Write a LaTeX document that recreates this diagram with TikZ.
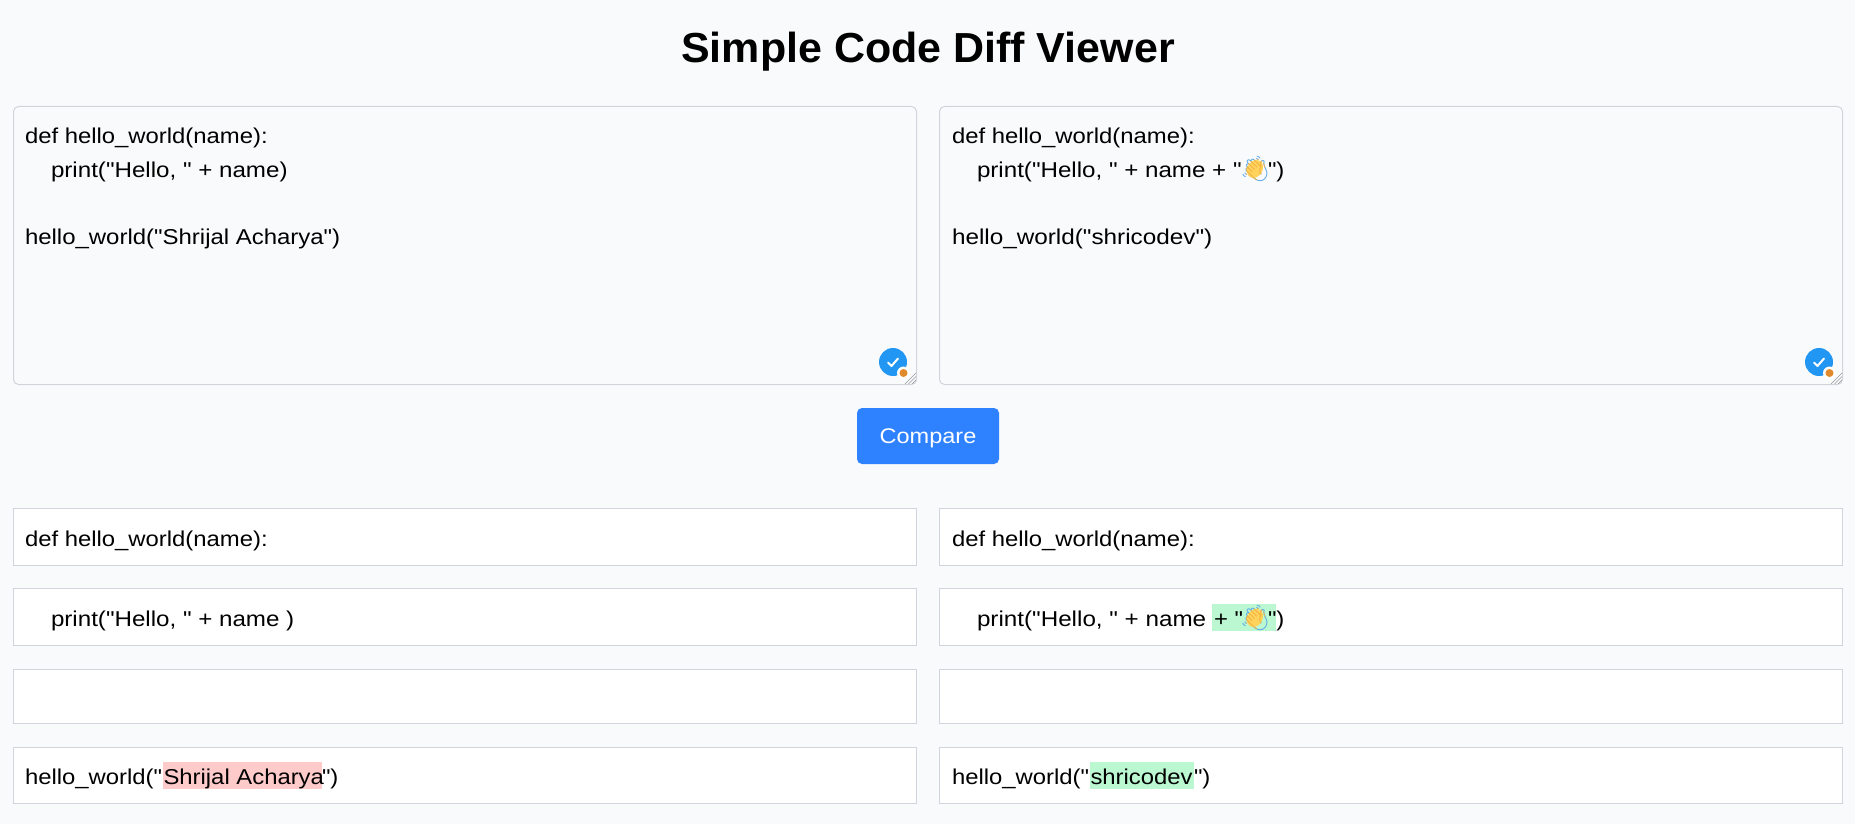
\documentclass[tikz,border=0pt]{standalone}
\usepackage{fontspec}
\newfontfamily\codefont[FakeStretch=1.11]{Liberation Sans}
\newfontfamily\titlefont[FakeStretch=1.023]{Liberation Sans}
\newfontfamily\emojifont{Noto Emoji}
\definecolor{pagebg}{HTML}{F9FAFB}
\definecolor{areabg}{HTML}{F9FAFC}
\definecolor{edge}{HTML}{D1D5DB}
\definecolor{btn}{HTML}{2F82FF}
\definecolor{addbg}{HTML}{BBF7D0}
\definecolor{delbg}{HTML}{FECACA}
\definecolor{badge}{HTML}{2196F3}
\definecolor{dot}{HTML}{E08A2C}
\definecolor{hand}{HTML}{FFD35C}
\definecolor{handline}{HTML}{F0B040}
\definecolor{waveline}{HTML}{5AA8EA}
\tikzset{
  x=1pt,y=-1pt,
  area/.style={draw=edge,line width=1pt,fill=areabg,rounded corners=5pt},
  rowbox/.style={draw=edge,line width=1pt,fill=white},
  code/.style={anchor=base west,inner sep=0pt,outer sep=0pt,font=\codefont\fontsize{21.5}{25}\selectfont,text=black},
  mark add/.style={fill=addbg,draw=none},
  mark del/.style={fill=delbg,draw=none},
  emoji/.style={anchor=center,inner sep=0pt,font=\emojifont\fontsize{25}{27}\selectfont},
}
\newcommand{\wave}[3]{%
  \node[emoji,text=waveline] (#3) at (#1,#2) {👋};
  \fill[hand,rotate around={-32:(#1,#2)}] (#1,#2) ellipse[x radius=7.5,y radius=9.5];
  \begin{scope}
    \clip[rotate around={-32:(#1,#2)}] (#1,#2) ellipse[x radius=9,y radius=11];
    \node[emoji,text=handline] at (#1,#2) {👋};
  \end{scope}
}
\newcommand{\badgeat}[2]{%
  \fill[badge] (#1,#2) circle[radius=14];
  \draw[white,line width=2pt,line cap=round,line join=round] (#1-5,#2+0.5) -- (#1-1.5,#2+4) -- (#1+5,#2-3.5);
  \fill[white] (#1+10.5,#2+11) circle[radius=6.5];
  \fill[dot] (#1+10.5,#2+11) circle[radius=4];
}
\newcommand{\gripat}[2]{%
  \draw[gray!80,line width=0.6pt] (#1-11,#2) -- (#1,#2-11) (#1-7.5,#2) -- (#1,#2-7.5) (#1-4,#2) -- (#1,#2-4);
}
\begin{document}
\begin{tikzpicture}
\useasboundingbox (0,0) rectangle (1855,824);
\fill[pagebg] (0,0) rectangle (1855,824);
\node[anchor=base,inner sep=0pt,font=\titlefont\fontsize{42}{50}\selectfont\bfseries] (title) at (928,63) {Simple Code Diff Viewer};
% top areas
\path[area] (13.5,106.5) rectangle (916.5,384.5);
\path[area] (939.5,106.5) rectangle (1842.5,384.5);
\node[code] (l1) at (25,144) {def hello\_world(name):};
\node[code] (l2) at (51,177) {\scalebox{1.012}[1]{print("Hello, " + name)}};
\node[code] (l3) at (25,244) {\scalebox{1.004}[1]{hello\_world("Shrijal Acharya")}};
\node[code] (r1) at (952,144) {def hello\_world(name):};
\node[code] (r2) at (977,177) {\scalebox{1.012}[1]{print("Hello, " + name + "}};
\wave{1255}{169}{h1}
\node[code] (r2b) at (1268,177) {")};
\node[code] (r3) at (952,244) {\scalebox{1.018}[1]{hello\_world("shricodev")}};
\badgeat{893}{362}
\badgeat{1819}{362}
\gripat{916}{384}
\gripat{1842}{384}
% button
\node[fill=btn,rounded corners=5pt,minimum width=142pt,minimum height=56pt,inner sep=0pt,anchor=center,text=white,font=\codefont\fontsize{21.2}{25}\selectfont] (compare) at (928,436) {\raisebox{-7pt}[0pt][0pt]{Compare}};
% rows
\path[rowbox] (13.5,508.5) rectangle (916.5,565.5);
\path[rowbox] (13.5,588.5) rectangle (916.5,645.5);
\path[rowbox] (13.5,669.5) rectangle (916.5,723.5);
\path[rowbox] (13.5,747.5) rectangle (916.5,803.5);
\path[rowbox] (939.5,508.5) rectangle (1842.5,565.5);
\path[rowbox] (939.5,588.5) rectangle (1842.5,645.5);
\path[rowbox] (939.5,669.5) rectangle (1842.5,723.5);
\path[rowbox] (939.5,747.5) rectangle (1842.5,803.5);
\path[mark del] (163,762) rectangle (322,789);
\path[mark add] (1212,604) rectangle (1276,631);
\path[mark add] (1090,762) rectangle (1194,789);
\node[code] (a1) at (25,546) {def hello\_world(name):};
\node[code] (a2) at (51,626) {\scalebox{1.012}[1]{print("Hello, " + name )}};
\node[code] (a4) at (25,784) {hello\_world("};
\node[code] (a4b) at (163.5,784) {Shrijal Acharya};
\node[code] (a4c) at (322,784) {")};
\node[code] (b1) at (952,546) {def hello\_world(name):};
\node[code] (b2) at (977,626) {\scalebox{1.015}[1]{print("Hello, " + name}};
\node[code] (b2b) at (1214,626) {+ "};
\wave{1255}{618}{h2}
\node[code] (b2c) at (1268,626) {")};
\node[code] (b4) at (952,784) {hello\_world("};
\node[code] (b4b) at (1090.5,784) {shricodev};
\node[code] (b4c) at (1194,784) {")};
\end{tikzpicture}
\end{document}
